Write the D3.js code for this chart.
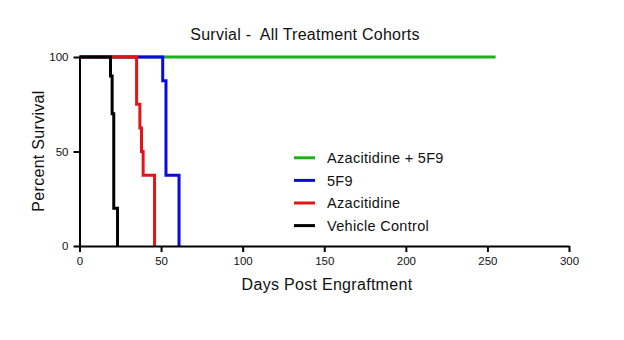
<!DOCTYPE html>
<html><head><meta charset="utf-8">
<script src="https://cdn.jsdelivr.net/npm/d3@7"></script>
<style>body{margin:0;background:#fff}svg{display:block}text{font-family:"Liberation Sans",Arial,sans-serif;fill:#111}</style>
</head><body><svg id="c" width="624" height="340"></svg>
<script>
const seriesNames = ["Azacitidine + 5F9", "5F9", "Azacitidine", "Vehicle Control"];
const seriesColors = ["#1fae1f", "#0a0ae0", "#e31414", "#000000"];
const combo = [[0,100],[255,100]];
const antiCD47 = [[0,100],[51,87.5],[53,37.5],[61,0]];
const aza = [[0,100],[35,75],[37,62.5],[38,50],[39,37.5],[46,0]];
const vehicle = [[0,100],[19,90],[20,70],[21,20],[23.3,0]];
const xTicks = [0,50,100,150,200,250,300];
const yTicks = [0,50,100];
const data = [combo, antiCD47, aza, vehicle];

const svg = d3.select("#c");
const x = d3.scaleLinear().domain([0,300]).range([79.5,569]);
const y = d3.scaleLinear().domain([0,100]).range([246,57]);

svg.append("text").attr("x",305).attr("y",40).attr("text-anchor","middle")
  .attr("font-size",16).attr("letter-spacing",0.25).attr("xml:space","preserve").text("Survial -  All Treatment Cohorts");

const line = d3.line().x(d=>x(d[0])).y(d=>y(d[1])).curve(d3.curveStepAfter);
data.forEach((s,i)=>{
  svg.append("path").attr("d",line(s)).attr("fill","none")
    .attr("stroke",seriesColors[i]).attr("stroke-width",3);
});

const xa = svg.append("g").attr("transform","translate(0,246)")
  .call(d3.axisBottom(x).tickValues(xTicks).tickSize(6).tickSizeOuter(0));
const ya = svg.append("g").attr("transform","translate(79.5,0)")
  .call(d3.axisLeft(y).tickValues(yTicks).tickSize(6).tickSizeOuter(0));
[xa,ya].forEach(a=>{
  a.select(".domain").attr("stroke","#000").attr("stroke-width",2);
  a.selectAll(".tick line").attr("stroke","#000").attr("stroke-width",2);
  a.selectAll(".tick text").attr("font-size",11.5).attr("font-family","Liberation Sans, Arial, sans-serif").attr("fill","#222");
});
xa.selectAll(".tick text").attr("dy","0.9em");
ya.selectAll(".tick text").attr("x",-11);

svg.append("text").attr("x",327).attr("y",290).attr("text-anchor","middle")
  .attr("font-size",16).attr("letter-spacing",0.3).text("Days Post Engraftment");
svg.append("text").attr("transform","translate(44,151) rotate(-90)").attr("text-anchor","middle")
  .attr("font-size",16).attr("letter-spacing",0.3).text("Percent Survival");

const lg = svg.append("g");
seriesNames.forEach((n,i)=>{
  const yy = 157.8 + i*22.6;
  lg.append("line").attr("x1",294).attr("x2",315).attr("y1",yy).attr("y2",yy)
    .attr("stroke",seriesColors[i]).attr("stroke-width",3);
  lg.append("text").attr("x",327).attr("y",yy+5.2).attr("font-size",14.5).attr("letter-spacing",0.3).text(n);
});
</script></body></html>
